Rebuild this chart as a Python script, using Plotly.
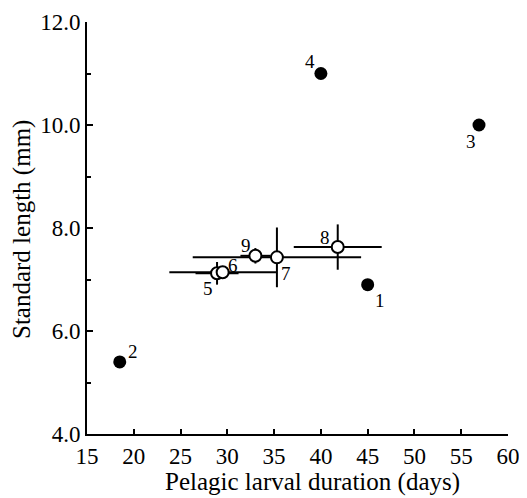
import plotly.graph_objects as go

# Filled points (species 1-4)
filled_ids = ["1", "2", "3", "4"]
filled_x = [45.0, 18.5, 56.9, 40.0]
filled_y = [6.9, 5.4, 10.0, 11.0]

# Open points with error bars (species 5-9)
open_ids = ["5", "6", "7", "8", "9"]
open_x = [28.9, 29.5, 35.3, 41.8, 33.0]
open_y = [7.12, 7.14, 7.43, 7.63, 7.46]
open_xerr = [2.3, 5.7, 9.0, 4.7, 1.6]
open_yerr = [0.22, 0.10, 0.58, 0.44, 0.15]

# label offsets in pixels (style only)
filled_off = [(12, -16), (13, 10), (-8, -16), (-11, 12)]
open_off = [(-9, -15), (10, 7), (9, -16), (-13, 10), (-9, 10)]

x_ticks = [15, 20, 25, 30, 35, 40, 45, 50, 55, 60]
y_ticks = [4.0, 6.0, 8.0, 10.0, 12.0]

x_title = "Pelagic larval duration (days)"
y_title = "Standard length (mm)"

FONT = "Liberation Serif"

fig = go.Figure()
fig.add_trace(go.Scatter(
    x=open_x, y=open_y, mode="markers",
    error_x=dict(type="data", array=open_xerr, color="black", thickness=2, width=0),
    error_y=dict(type="data", array=open_yerr, color="black", thickness=2, width=0),
    marker=dict(size=12, color="white", line=dict(color="black", width=2)),
    showlegend=False, cliponaxis=False,
))
fig.add_trace(go.Scatter(
    x=filled_x, y=filled_y, mode="markers",
    marker=dict(size=13, color="black"),
    showlegend=False, cliponaxis=False,
))

for ids, xs, ys, offs in [(filled_ids, filled_x, filled_y, filled_off),
                          (open_ids, open_x, open_y, open_off)]:
    for t, x, y, (dx, dy) in zip(ids, xs, ys, offs):
        fig.add_annotation(x=x, y=y, text=t, showarrow=False,
                           xshift=dx, yshift=dy,
                           font=dict(family=FONT, size=19, color="black"))

# axis titles
fig.add_annotation(text=x_title, xref="paper", yref="paper", x=0.5, y=0,
                   xanchor="center", yanchor="top", xshift=15, yshift=-32,
                   showarrow=False, font=dict(family=FONT, size=25, color="black"))
fig.add_annotation(text=y_title, xref="paper", yref="paper", x=0, y=0.5,
                   xanchor="center", yanchor="middle", xshift=-65, yshift=-2,
                   textangle=-90, showarrow=False,
                   font=dict(family=FONT, size=25, color="black"))

fig.update_layout(
    width=527, height=498,
    margin=dict(l=79, r=27, t=14, b=72),
    paper_bgcolor="white", plot_bgcolor="white",
    font=dict(family=FONT, size=23, color="black"),
)
fig.update_xaxes(
    range=[15, 60], tickvals=x_ticks, ticktext=[str(v) for v in x_ticks],
    showline=True, linecolor="black", linewidth=2, mirror=False,
    ticks="inside", ticklen=5, tickwidth=2, tickcolor="black",
    showgrid=False, zeroline=False, automargin=False,
    tickfont=dict(size=23), ticklabeloverflow="allow",
)
fig.update_yaxes(
    range=[4, 12], tickvals=y_ticks, ticktext=[f"{v:.1f}" for v in y_ticks],
    showline=True, linecolor="black", linewidth=2, mirror=False,
    ticks="inside", ticklen=6, tickwidth=2, tickcolor="black",
    minor=dict(dtick=1, ticks="inside", ticklen=4, tickwidth=2, tickcolor="black", showgrid=False),
    showgrid=False, zeroline=False, automargin=False,
    tickfont=dict(size=23), ticklabeloverflow="allow",
)
fig.write_html("out.html")
